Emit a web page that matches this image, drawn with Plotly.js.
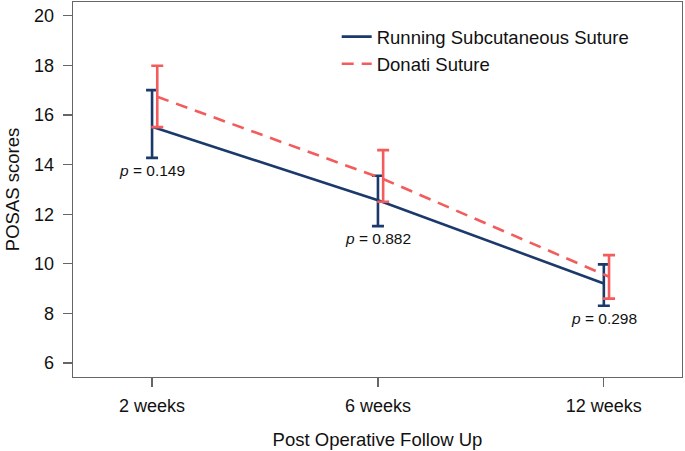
<!DOCTYPE html>
<html>
<head>
<meta charset="utf-8">
<script src="https://cdn.plot.ly/plotly-3.0.1.min.js"></script>
<style>html,body{margin:0;padding:0;background:#fff;}#chart{width:685px;height:451px;}</style>
</head>
<body>
<div id="chart"></div>
<script>
const categories = ['2 weeks', '6 weeks', '12 weeks'];
const seriesNames = ['Running Subcutaneous Suture', 'Donati Suture'];
const runningMean = [15.52, 12.56, 9.21];
const runningPlus = [1.48, 0.99, 0.77];
const runningMinus = [1.25, 1.04, 0.90];
const donatiMean = [16.73, 13.42, 9.48];
const donatiPlus = [1.25, 1.16, 0.87];
const donatiMinus = [1.22, 0.92, 0.88];
const pValues = ['0.149', '0.882', '0.298'];
const yTicks = [6, 8, 10, 12, 14, 16, 18, 20];

const navy = '#1b3a6b';
const red = '#f25c5c';
const dodge = 0.023;
const idx = categories.map((c, i) => i);
const font = 'Arial, "Liberation Sans", sans-serif';

const traces = [
  {
    x: idx, y: runningMean, name: seriesNames[0], type: 'scatter', mode: 'lines',
    line: {color: navy, width: 2.6},
    error_y: {type: 'data', symmetric: false, array: runningPlus, arrayminus: runningMinus,
      color: navy, thickness: 2.6, width: 6}
  },
  {
    x: idx.map(i => i + dodge), y: donatiMean, name: seriesNames[1], type: 'scatter', mode: 'lines',
    line: {color: red, width: 2.6, dash: '12px,8px'},
    error_y: {type: 'data', symmetric: false, array: donatiPlus, arrayminus: donatiMinus,
      color: red, thickness: 2.6, width: 6}
  }
];

const annotations = idx.map(i => ({
  x: i, y: runningMean[i] - runningMinus[i], xref: 'x', yref: 'y',
  text: '<i>p</i> = ' + pValues[i], showarrow: false,
  xanchor: 'center', yanchor: 'top', yshift: -2,
  font: {family: font, size: 15.5, color: '#111'}
}));

const layout = {
  width: 685, height: 451,
  margin: {l: 73, r: 3, t: 2, b: 74},
  paper_bgcolor: '#fff', plot_bgcolor: '#fff',
  font: {family: font, color: '#111'},
  showlegend: true,
  legend: {x: 0.433, y: 0.957, xanchor: 'left', yanchor: 'top',
    bgcolor: 'rgba(0,0,0,0)', font: {family: font, size: 18.5, color: '#111'}},
  xaxis: {
    range: [-0.35, 2.346], tickvals: idx, ticktext: categories,
    showgrid: false, zeroline: false, showline: true, mirror: true,
    linecolor: '#666', linewidth: 1.3, ticks: 'outside', ticklen: 9, tickcolor: '#666', tickwidth: 1.3,
    ticklabelstandoff: 3,
    tickfont: {family: font, size: 18, color: '#111'},
    title: {text: 'Post Operative Follow Up', font: {family: font, size: 18.5, color: '#111'}, standoff: 18}
  },
  yaxis: {
    range: [5.44, 20.55], tickvals: yTicks,
    showgrid: false, zeroline: false, showline: true, mirror: true,
    linecolor: '#666', linewidth: 1.3, ticks: 'outside', ticklen: 9, tickcolor: '#666', tickwidth: 1.3,
    ticklabelstandoff: 5,
    tickfont: {family: font, size: 18, color: '#111'},
    title: {text: 'POSAS scores', font: {family: font, size: 18.5, color: '#111'}, standoff: 9}
  },
  annotations: annotations
};

Plotly.newPlot('chart', traces, layout, {displayModeBar: false, staticPlot: true});
</script>
</body>
</html>
